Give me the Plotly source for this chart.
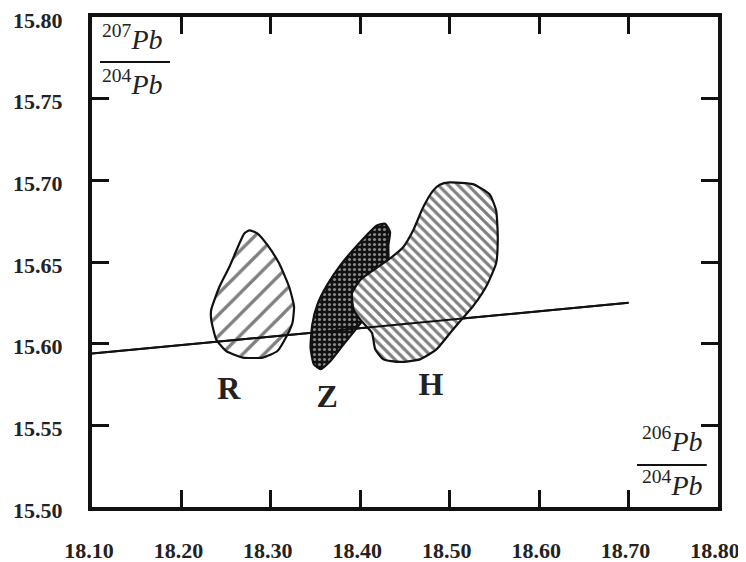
import plotly.graph_objects as go

# ---- data ----
x_ticks = [18.10, 18.20, 18.30, 18.40, 18.50, 18.60, 18.70, 18.80]
x_tick_labels = ["18.10", "18.20", "18.30", "18.40", "18.50", "18.60", "18.70", "18.80"]
y_ticks = [15.50, 15.55, 15.60, 15.65, 15.70, 15.75, 15.80]
y_tick_labels = ["15.50", "15.55", "15.60", "15.65", "15.70", "15.75", "15.80"]

# reference line
line_x = [18.10, 18.70]
line_y = [15.594, 15.625]

# field R
r_x = [18.2759, 18.2852, 18.2963, 18.3092, 18.3203, 18.3259, 18.3241, 18.3167, 18.3074,
       18.2908, 18.2686, 18.2500, 18.2389, 18.2333, 18.2333, 18.2426, 18.2537, 18.2648,
       18.2703, 18.2759]
r_y = [15.6694, 15.6674, 15.6603, 15.6492, 15.6350, 15.6228, 15.6127, 15.6036, 15.5955,
       15.5915, 15.5915, 15.5955, 15.6026, 15.6147, 15.6208, 15.6350, 15.6471, 15.6613,
       15.6674, 15.6694]

# field Z
z_x = [18.4278, 18.4333, 18.4314, 18.4314, 18.4222, 18.4074, 18.3963, 18.3814, 18.3667,
       18.3556, 18.3481, 18.3444, 18.3463, 18.3519, 18.3630, 18.3778, 18.4000, 18.4186,
       18.4278]
z_y = [15.6734, 15.6683, 15.6603, 15.6501, 15.6340, 15.6178, 15.6097, 15.5996, 15.5894,
       15.5844, 15.5874, 15.5975, 15.6117, 15.6238, 15.6360, 15.6481, 15.6623, 15.6724,
       15.6734]

# field H
h_x = [18.5000, 18.5259, 18.5444, 18.5519, 18.5537, 18.5519, 18.5408, 18.5259, 18.5148,
       18.5037, 18.4852, 18.4667, 18.4444, 18.4259, 18.4167, 18.4130, 18.4000, 18.3926,
       18.3908, 18.4000, 18.4148, 18.4333, 18.4481, 18.4592, 18.4703, 18.4814, 18.4889,
       18.5000]
h_y = [15.6987, 15.6977, 15.6916, 15.6815, 15.6653, 15.6492, 15.6350, 15.6228, 15.6158,
       15.6087, 15.5965, 15.5904, 15.5888, 15.5904, 15.5965, 15.6067, 15.6147, 15.6208,
       15.6309, 15.6390, 15.6451, 15.6522, 15.6592, 15.6694, 15.6835, 15.6937, 15.6973,
       15.6987]

field_labels = ["R", "Z", "H"]
field_label_x = [18.253, 18.363, 18.479]
field_label_y = [15.5710, 15.5660, 15.5735]

SERIF = "Liberation Serif"

fig = go.Figure()

fig.add_trace(go.Scatter(
    x=r_x, y=r_y, mode="lines", fill="toself",
    line=dict(color="#111", width=2.2, shape="spline", smoothing=0.5),
    fillcolor="white",
    fillpattern=dict(shape="/", size=15, solidity=0.22, fgcolor="#000", bgcolor="white"),
    hoverinfo="skip"))

fig.add_trace(go.Scatter(
    x=line_x, y=line_y, mode="lines",
    line=dict(color="#111", width=2), hoverinfo="skip"))

fig.add_trace(go.Scatter(
    x=z_x, y=z_y, mode="lines", fill="toself",
    line=dict(color="#111", width=2.2, shape="spline", smoothing=0.5),
    fillcolor="#111",
    fillpattern=dict(shape=".", size=5, solidity=0.3, fgcolor="white", bgcolor="#111"),
    hoverinfo="skip"))

fig.add_trace(go.Scatter(
    x=h_x, y=h_y, mode="lines", fill="toself",
    line=dict(color="#111", width=2.2, shape="spline", smoothing=0.5),
    fillcolor="white",
    fillpattern=dict(shape="\\", size=7, solidity=0.45, fgcolor="#000", bgcolor="white"),
    hoverinfo="skip"))

# line visible over H (drawn again on top, as in the reference)
fig.add_trace(go.Scatter(
    x=line_x, y=line_y, mode="lines",
    line=dict(color="#111", width=2), hoverinfo="skip"))

fig.add_trace(go.Scatter(
    x=field_label_x, y=field_label_y, mode="text", text=field_labels,
    textfont=dict(family=SERIF, size=32, color="#222", weight="bold"),
    hoverinfo="skip"))

axis_common = dict(
    showgrid=False, zeroline=False, automargin=False,
    showline=True, linecolor="#111", linewidth=4, mirror="ticks",
    ticks="inside", ticklen=17, tickwidth=3, tickcolor="#111",
    ticklabeloverflow="allow",
    tickfont=dict(family=SERIF, size=22, color="#222", weight="bold"),
)

fig.update_xaxes(range=[18.10, 18.80], tickvals=x_ticks, ticktext=x_tick_labels,
                 ticklabelstandoff=21, ticklabelshift=-3, **axis_common)
fig.update_yaxes(range=[15.50, 15.80], tickvals=y_ticks, ticktext=y_tick_labels,
                 ticklabelstandoff=21, ticklabelshift=3, **axis_common)

ann_font = dict(family=SERIF, size=28, color="#222")
annotations = [
    dict(x=0.0128, y=0.958, xref="paper", yref="paper", xanchor="left", yanchor="middle",
         text="<sup>207</sup><i>Pb</i>", showarrow=False, font=ann_font),
    dict(x=0.0128, y=0.867, xref="paper", yref="paper", xanchor="left", yanchor="middle",
         text="<sup>204</sup><i>Pb</i>", showarrow=False, font=ann_font),
    dict(x=0.979, y=0.137, xref="paper", yref="paper", xanchor="right", yanchor="middle",
         text="<sup>206</sup><i>Pb</i>", showarrow=False, font=ann_font),
    dict(x=0.979, y=0.047, xref="paper", yref="paper", xanchor="right", yanchor="middle",
         text="<sup>204</sup><i>Pb</i>", showarrow=False, font=ann_font),
]

shapes = [
    dict(type="line", xref="paper", yref="paper", x0=0.0128, x1=0.1246, y0=0.908, y1=0.908,
         line=dict(color="#111", width=2)),
    dict(type="line", xref="paper", yref="paper", x0=0.8706, x1=0.982, y0=0.0857, y1=0.0857,
         line=dict(color="#111", width=2)),
]

fig.update_layout(
    width=746, height=562,
    margin=dict(l=84, r=36, t=9, b=63, autoexpand=False),
    paper_bgcolor="white", plot_bgcolor="white",
    showlegend=False,
    annotations=annotations, shapes=shapes,
)

fig.write_html("out.html")
